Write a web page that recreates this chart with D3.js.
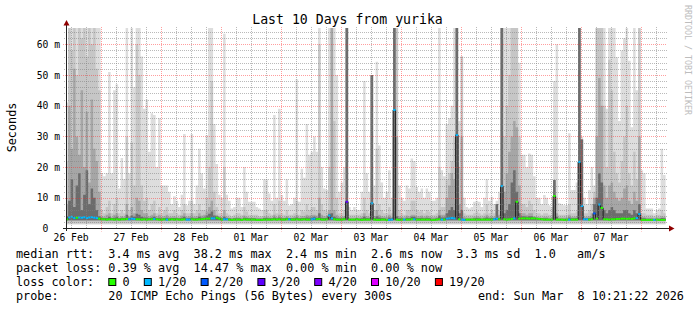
<!DOCTYPE html>
<html>
<head>
<meta charset="utf-8">
<script src="https://cdn.jsdelivr.net/npm/d3@7"></script>
<style>
body { margin: 0; background: #fff; }
svg text { font-family: "DejaVu Sans Mono", monospace; }
</style>
</head>
<body>
<div id="chart"></div>
<script>
// hourly bins, first one starts 26 Feb 10:00 UTC
var binStart = Date.UTC(2026, 1, 26, 10);
var timeStart = new Date(Date.UTC(2026, 1, 26, 10, 21, 22));
var timeEnd = new Date(Date.UTC(2026, 2, 8, 10, 21, 22));

// smoke: outer (max ping) -> inner levels, in ms
var maxPing = [
  41, 65.3, 65.3, 65.3, 65.3, 65.3, 65.3, 65.3, 65.3, 65.3, 65.3, 65.3, 65.3, 65.3,
  18, 17, 18, 51, 18, 45, 47, 13, 23, 16, 65.3, 18, 65.3, 46, 65.3, 65.3, 56, 39, 42, 25, 37.5, 37, 20, 36,
  14, 14, 14, 12, 8, 10.5, 9, 7, 11, 30.8, 7.6, 9, 30.8, 8, 14, 26, 18, 13, 30.4, 65.3, 65.3, 34, 21, 11,
  10, 63.4, 11, 9, 6.5, 7, 10, 10, 7, 20, 12, 8.7, 8.7, 8.7, 7, 6.5, 6, 16, 16, 11.4, 9, 37, 10, 39,
  10.9, 9, 16, 7.5, 8, 10, 48.6, 8.7, 19.5, 16.5, 34, 24, 25, 30, 25, 65.3, 20, 13, 12.5, 65.3, 65.3, 65.3, 50, 12,
  15, 20, 65.3, 7, 6, 7, 6, 6, 12, 48, 18, 12, 50, 14, 54.3, 27, 15, 10, 12, 19, 10, 65.3, 65.3, 14,
  10, 9, 14, 13, 22.8, 22, 13.5, 12, 13, 10, 13, 12, 9, 9, 10, 65.3, 19, 17, 34, 36, 40, 65.3, 65.3, 35,
  56, 10, 7, 6.5, 7, 8.7, 9, 8.7, 7, 10, 16, 9, 10.3, 8, 9, 12, 65.3, 65.3, 65.3, 65.3, 65.3, 65.3, 65.3, 54,
  24, 24, 20, 24.4, 24, 17, 10, 10, 8, 10.9, 10, 7.6, 7, 48, 60, 8.2, 8, 7.6, 7.6, 31, 12.5, 12.5, 15, 65.3,
  30, 10, 8, 12.5, 20, 14, 65.3, 65.3, 65.3, 65.3, 39, 65.3, 65.3, 65.3, 55.8, 35, 58, 62, 65.3, 54.6, 33, 65.3, 45, 65.3,
  19, 18, 6.5, 6.5, 6.5, 5, 6, 6.5, 26, 17.4
];
var smoke2 = [
  22, 65.3, 58, 65.3, 50, 65.3, 62, 65.3, 56, 65.3, 60, 65.3, 52, 45,
  6, 5, 7, 9, 5, 8, 10, 5, 6, 5, 30, 6, 28, 14, 60, 50, 14, 9, 10, 6, 8, 9, 5, 7,
  5, 6, 7, 5, 5, 6, 5, 4.5, 6, 8, 5, 5, 9, 5, 6, 8, 6, 6, 10, 20, 48, 12, 7, 5,
  5, 20, 5, 4.5, 4, 4.5, 5, 5, 4.5, 7, 5.5, 4.5, 4.5, 4.5, 4.5, 4, 4, 6, 6, 5, 4.5, 8, 5, 9,
  5, 4.5, 6, 4.5, 4.5, 5, 9, 4.5, 6, 5.5, 8, 6, 7, 7, 6, 60, 8, 6, 5.5, 20, 65.3, 35, 10, 5,
  5, 6, 65.3, 4.5, 4.5, 4.5, 4.5, 4.5, 5, 10, 6, 5, 50, 6, 26, 8, 6, 5, 5, 7, 5, 65.3, 65.3, 6,
  5, 4.5, 6, 6, 9, 9, 6, 5.5, 6, 5, 6, 5.5, 4.5, 4.5, 5, 20, 7, 7, 16, 18, 22, 30, 65.3, 20,
  56, 5, 4.5, 4.5, 4.5, 5, 5.5, 5, 4.5, 5, 8, 5, 6, 5, 6, 6, 65.3, 30, 40, 50, 65.3, 65.3, 65.3, 30,
  8, 8, 7, 9, 8, 6, 5, 5, 4.5, 5, 5, 4.5, 4.5, 15, 10, 4.5, 4.5, 4.5, 4.5, 8, 5, 5, 5.5, 65.3,
  29, 5, 5, 6, 8, 12, 65.3, 65.3, 65.3, 40, 20, 55, 45, 25, 18, 15, 22, 30, 40, 18, 14, 25, 16, 65.3,
  5, 5, 4.5, 4.5, 4.5, 4, 4.5, 4.5, 6, 5
];
var smoke3 = [
  8, 40, 26, 52, 30, 24, 45, 20, 38, 15, 42, 26, 22, 12,
  4, 3.8, 4.5, 5, 3.7, 4.5, 5, 3.6, 4, 3.8, 8, 4, 7, 5, 10, 9, 6, 5, 5, 4, 4.5, 5, 4, 4.5,
  3.8, 4, 4.5, 3.8, 3.8, 4, 3.7, 3.6, 4.2, 5, 3.8, 4, 5, 3.8, 4, 5, 4.2, 4.5, 5.5, 7, 9, 6, 4.5, 4,
  3.7, 6, 3.8, 3.6, 3.5, 3.6, 3.7, 3.7, 3.6, 4.2, 3.8, 3.6, 3.6, 3.6, 3.6, 3.5, 3.5, 3.9, 3.9, 3.7, 3.6, 4.5, 3.7, 4.5,
  3.7, 3.6, 4, 3.6, 3.6, 3.8, 4.5, 3.6, 4, 4, 4.5, 4.2, 4.5, 4.5, 4.2, 10, 4.5, 4, 4, 6, 65.3, 6, 4.5, 3.8,
  3.8, 4, 65.3, 3.6, 3.6, 3.6, 3.6, 3.6, 3.8, 5, 4, 3.8, 50, 4, 6, 4.5, 4, 3.8, 3.8, 4.5, 3.8, 65.3, 30, 4,
  3.8, 3.7, 4.2, 4, 4.5, 4.5, 4, 4, 4.2, 3.8, 4.2, 4, 3.7, 3.7, 3.8, 6, 4.5, 4.5, 10, 14, 18, 16, 65.3, 8,
  30, 3.8, 3.6, 3.6, 3.6, 3.8, 4, 3.8, 3.6, 3.8, 4.5, 3.8, 4, 3.8, 8, 4.5, 65.3, 12, 18, 25, 30, 35, 33, 14,
  5, 5, 4.5, 5, 5, 4, 3.8, 3.8, 3.6, 3.8, 3.8, 3.6, 3.6, 15.8, 5, 3.6, 3.6, 3.6, 3.6, 4.5, 3.8, 3.8, 4, 65.3,
  29, 3.8, 3.8, 4, 5, 10, 30, 49, 40, 14, 10, 14, 15, 12, 10, 9, 10, 13, 14, 9, 8, 12, 9, 30,
  3.8, 3.8, 3.6, 3.6, 3.6, 3.5, 3.6, 3.6, 4, 3.8
];
var smoke4 = [
  4, 9, 16, 7, 14, 18, 6, 11, 19, 8, 13, 10, 6, 4,
  3.5, 3.4, 3.4, 3.8, 3.4, 3.5, 3.8, 3.3, 3.5, 3.4, 4.5, 3.5, 4.2, 3.8, 4.8, 4.5, 3.8, 3.6, 3.6, 3.4, 3.6, 3.8, 3.4, 3.5,
  3.3, 3.4, 3.5, 3.3, 3.4, 3.4, 3.3, 3.3, 3.5, 3.8, 3.3, 3.4, 3.6, 3.3, 3.4, 3.8, 3.5, 3.6, 4.2, 4.8, 5.5, 4.2, 4, 3.6,
  3.3, 3.8, 3.4, 3.3, 3.2, 3.3, 3.3, 3.3, 3.2, 3.5, 3.4, 3.3, 3.3, 3.3, 3.2, 3.2, 3.2, 3.4, 3.4, 3.3, 3.3, 3.6, 3.3, 3.6,
  3.3, 3.3, 3.5, 3.4, 3.3, 3.3, 3.6, 3.3, 3.4, 3.4, 3.6, 3.5, 3.6, 3.8, 3.5, 5, 3.5, 3.4, 3.4, 4.8, 5, 3.8, 3.5, 3.3,
  3.3, 3.5, 65.3, 3.2, 3.2, 3.2, 3.3, 3.2, 3.3, 3.8, 3.4, 3.3, 50, 3.4, 4, 3.6, 3.4, 3.3, 3.2, 3.6, 3.3, 65.3, 4, 3.3,
  3.3, 3.2, 3.5, 3.4, 3.8, 3.8, 3.4, 3.4, 3.5, 3.3, 3.5, 3.4, 3.2, 3.2, 3.3, 4.2, 3.6, 3.6, 5, 6, 7, 6, 65.3, 5,
  6, 3.2, 3.2, 3.2, 3.2, 3.3, 3.4, 3.3, 3.2, 3.3, 3.6, 3.3, 3.4, 3.3, 8, 3.5, 65.3, 5, 6, 8, 15, 19, 12, 5,
  4, 4, 3.8, 4, 4, 3.6, 3.5, 3.4, 3.3, 3.3, 3.3, 3.2, 3.2, 15.8, 3.8, 3.2, 3.2, 3.2, 3.2, 3.6, 3.3, 3.3, 3.4, 65.3,
  29, 3.3, 3.3, 3.4, 3.6, 8, 10, 18, 15, 6, 5, 6, 7, 6, 5, 5, 5, 6, 6, 5, 4.5, 6, 5, 8,
  3.3, 3.3, 3.2, 3.2, 3.2, 3.1, 3.2, 3.2, 3.4, 3.3
];
var medianRtt = [
  3.0, 3.6, 3.8, 3.4, 3.5, 3.6, 3.5, 3.7, 3.4, 3.6, 3.7, 3.5, 3.4, 3.2,
  3.0, 3.0, 2.9, 3.0, 3.0, 2.9, 3.0, 2.9, 3.0, 3.0, 3.1, 3.0, 3.2, 3.1, 3.0, 3.0, 2.9, 3.0, 2.9, 3.0, 3.0, 3.1, 3.0, 2.9,
  2.9, 3.0, 2.9, 2.9, 3.0, 2.9, 3.0, 2.9, 2.9, 3.0, 2.9, 2.9, 3.0, 2.9, 2.9, 3.0, 3.0, 3.1, 3.2, 3.2, 3.3, 3.3, 3.5, 3.2,
  2.9, 3.0, 3.0, 2.9, 2.8, 2.9, 2.9, 2.9, 2.8, 3.0, 2.9, 2.9, 2.9, 2.9, 2.8, 2.8, 2.8, 2.9, 2.9, 2.9, 2.9, 3.0, 2.9, 3.0,
  2.9, 2.9, 3.0, 3.0, 2.9, 2.9, 3.0, 2.9, 2.9, 3.0, 2.9, 2.9, 3.0, 3.2, 3.0, 3.1, 2.9, 2.9, 3.0, 4.2, 3.3, 3.0, 2.9, 2.9,
  2.9, 3.0, 8.7, 2.9, 2.9, 2.9, 3.0, 2.9, 2.8, 2.9, 2.9, 2.9, 8.2, 2.9, 2.8, 2.8, 2.9, 2.9, 2.8, 2.8, 2.9, 38.6, 2.9, 2.8,
  2.9, 2.9, 2.9, 2.9, 3.0, 3.0, 2.9, 2.9, 2.9, 2.9, 2.9, 2.9, 2.8, 2.8, 2.9, 3.0, 2.9, 2.9, 3.2, 3.3, 3.4, 3.3, 30.4, 3.0,
  2.9, 2.8, 2.9, 2.9, 2.9, 2.9, 2.9, 2.9, 2.9, 2.9, 2.9, 2.9, 2.9, 3.0, 3.2, 3.0, 13.8, 3.0, 2.9, 3.0, 3.1, 3.3, 8.7, 3.2,
  3.3, 3.3, 3.3, 3.2, 3.3, 3.3, 3.2, 3.1, 3.0, 2.9, 2.9, 2.9, 2.9, 10.6, 2.9, 2.9, 2.9, 2.8, 2.9, 2.9, 2.9, 2.9, 2.9, 21.7,
  7.3, 3.0, 3.0, 2.9, 3.0, 4.9, 3.2, 7.8, 6.7, 3.0, 3.0, 2.9, 3.0, 3.0, 3.1, 3.1, 3.2, 3.2, 3.1, 3.2, 3.1, 3.3, 3.4, 4.7,
  2.8, 2.8, 2.8, 2.8, 2.8, 2.8, 2.9, 2.8, 2.8, 2.8
];
// lost pings out of 20
var lossCount = [
  0, 1, 1, 1, 0, 1, 1, 1, 1, 1, 1, 1, 1, 0,
  0, 0, 0, 0, 0, 0, 0, 0, 0, 0, 0, 1, 1, 1, 0, 0, 0, 0, 0, 0, 0, 1, 0, 0,
  0, 0, 1, 0, 0, 0, 0, 0, 0, 0, 1, 1, 0, 0, 0, 0, 0, 0, 0, 0, 1, 1, 0, 0,
  0, 1, 1, 0, 0, 0, 0, 0, 0, 0, 0, 0, 0, 0, 0, 0, 0, 0, 0, 0, 0, 0, 0, 0,
  0, 0, 0, 1, 0, 0, 0, 0, 0, 0, 0, 0, 1, 1, 0, 0, 0, 0, 0, 1, 1, 0, 0, 0,
  0, 0, 3, 0, 0, 0, 0, 0, 0, 0, 0, 0, 1, 0, 0, 0, 0, 0, 0, 1, 1, 1, 0, 0,
  0, 1, 0, 0, 0, 1, 0, 0, 0, 0, 0, 0, 0, 0, 0, 0, 1, 0, 1, 1, 1, 1, 1, 0,
  1, 1, 0, 0, 0, 0, 0, 0, 0, 0, 0, 0, 0, 1, 1, 0, 1, 0, 0, 0, 0, 1, 0, 0,
  0, 0, 0, 0, 0, 0, 0, 0, 0, 0, 0, 0, 0, 0, 0, 0, 0, 0, 0, 1, 0, 0, 0, 1,
  1, 1, 1, 0, 0, 2, 0, 1, 0, 0, 0, 0, 0, 0, 0, 0, 0, 0, 0, 0, 0, 0, 1, 1,
  0, 0, 0, 0, 0, 1, 0, 0, 0, 0
];
var smokeFloor = [1.3, 1.6, 2.5, 2.7];
var smokeColors = ["#dddddd", "#c6c6c6", "#a6a6a6", "#6c6c6c"];

var lossSteps = [0, 1, 2, 3, 4, 10, 19];
var lossLabels = ["0", "1/20", "2/20", "3/20", "4/20", "10/20", "19/20"];
var lossColors = ["#26ff00", "#00b8ff", "#0059ff", "#5e00ff", "#7e00ff", "#dd00ff", "#ff0000"];

var yTicks = [0, 10, 20, 30, 40, 50, 60];

var legendLines = [
  "median rtt:  3.4 ms avg  38.2 ms max  2.4 ms min  2.6 ms now  3.3 ms sd  1.0   am/s",
  "packet loss: 0.39 % avg  14.47 % max  0.00 % min  0.00 % now",
  "loss color:",
  "probe:       20 ICMP Echo Pings (56 Bytes) every 300s"
];
var endText = "end: Sun Mar  8 10:21:22 2026";

function lossColor(n) {
  var c = lossColors[0];
  lossSteps.forEach(function(s, i) { if (n >= s) c = lossColors[i]; });
  return c;
}

var svg = d3.select("#chart").append("svg")
  .attr("width", 697).attr("height", 310);

var x = d3.scaleUtc().domain([timeStart, timeEnd]).range([66.5, 666.5]);
var y = d3.scaleLinear().domain([0, 65.3]).range([228.5, 28]);

var bins = maxPing.map(function(d, i) {
  return {
    t0: new Date(binStart + i * 36e5),
    t1: new Date(binStart + (i + 1) * 36e5),
    lv: [maxPing[i], smoke2[i], smoke3[i], smoke4[i]],
    med: medianRtt[i],
    loss: lossCount[i]
  };
});
var last = bins[bins.length - 1];
var stepPts = bins.concat([{ t0: last.t1, lv: last.lv, med: last.med }]);

svg.append("clipPath").attr("id", "plot")
  .append("rect").attr("x", 66.5).attr("y", 20).attr("width", 600).attr("height", 208.5);

var plot = svg.append("g").attr("clip-path", "url(#plot)");

// ----- smoke -----
smokeFloor.forEach(function(fl, L) {
  var area = d3.area().curve(d3.curveStepAfter)
    .x(function(d) { return x(d.t0); })
    .y0(y(fl))
    .y1(function(d) { return y(Math.max(d.lv[L], fl)); });
  plot.append("path").datum(stepPts).attr("d", area).attr("fill", smokeColors[L]);
});

// ----- grid (drawn over the smoke) -----
var grid = svg.append("g").attr("fill", "none").attr("stroke-dasharray", "1,1");
d3.range(2, 66, 2).filter(function(v) { return v % 10 !== 0; }).forEach(function(v) {
  grid.append("line").attr("x1", 64).attr("x2", 667)
    .attr("y1", Math.round(y(v)) + 0.5).attr("y2", Math.round(y(v)) + 0.5)
    .attr("stroke", "rgba(130,130,130,0.55)");
});
x.ticks(d3.utcHour.every(6)).filter(function(d) { return d.getUTCHours() !== 0; }).forEach(function(d) {
  grid.append("line").attr("y1", 27).attr("y2", 228.5)
    .attr("x1", Math.round(x(d)) + 0.5).attr("x2", Math.round(x(d)) + 0.5)
    .attr("stroke", "rgba(130,130,130,0.55)");
});
yTicks.filter(function(v) { return v > 0; }).forEach(function(v) {
  grid.append("line").attr("x1", 63).attr("x2", 667)
    .attr("y1", Math.round(y(v)) + 0.5).attr("y2", Math.round(y(v)) + 0.5)
    .attr("stroke", "rgba(255,40,40,0.45)");
});
x.ticks(d3.utcDay.every(1)).forEach(function(d) {
  grid.append("line").attr("y1", 27).attr("y2", 231.5)
    .attr("x1", Math.round(x(d)) + 0.5).attr("x2", Math.round(x(d)) + 0.5)
    .attr("stroke", "rgba(255,40,40,0.45)");
});

// ----- median -----
var medLine = d3.line().curve(d3.curveStepAfter)
  .x(function(d) { return x(d.t0); })
  .y(function(d) { return y(d.med); });
plot.append("path").datum(stepPts).attr("d", medLine)
  .attr("fill", "none").attr("stroke", "#1e1e1e").attr("stroke-width", 1);

plot.selectAll(".med").data(bins).enter().append("rect")
  .attr("class", "med")
  .attr("x", function(d) { return x(d.t0); })
  .attr("width", function(d) { return x(d.t1) - x(d.t0); })
  .attr("y", function(d) { return y(d.med) - 1; })
  .attr("height", 2)
  .attr("fill", function(d) { return lossColor(d.loss); });

// ----- axes -----
svg.append("line").attr("x1", 63).attr("x2", 669).attr("y1", 228.5).attr("y2", 228.5)
  .attr("stroke", "#222");
svg.append("line").attr("x1", 66.5).attr("x2", 66.5).attr("y1", 231).attr("y2", 25)
  .attr("stroke", "#222");
svg.append("path").attr("d", "M669,225.5L674.5,228.5L669,231.5Z").attr("fill", "#900000");
svg.append("path").attr("d", "M63.5,25.5L66.5,20L69.5,25.5Z").attr("fill", "#900000");

var yAxis = d3.axisLeft(y).tickValues(yTicks).tickSize(0).tickPadding(6)
  .tickFormat(function(d) { return d === 0 ? "0  " : d + " m"; });
svg.append("g").attr("transform", "translate(66,0)").call(yAxis)
  .attr("font-family", "DejaVu Sans Mono").attr("font-size", 9.7)
  .call(function(g) { g.select(".domain").remove(); })
  .selectAll("text").attr("xml:space", "preserve").style("white-space", "pre");

var noons = d3.utcDay.range(new Date(Date.UTC(2026, 1, 26)), new Date(Date.UTC(2026, 2, 8)))
  .map(function(d) { return d3.utcHour.offset(d, 12); });
var xAxis = d3.axisBottom(x).tickValues(noons).tickSize(0).tickPadding(5.3)
  .tickFormat(d3.utcFormat("%d %b"));
svg.append("g").attr("transform", "translate(0,228.5)").call(xAxis)
  .attr("font-family", "DejaVu Sans Mono").attr("font-size", 9.7)
  .call(function(g) { g.select(".domain").remove(); });

// ----- texts -----
svg.append("text").attr("x", 347.5).attr("y", 24).attr("text-anchor", "middle")
  .attr("font-size", 13.2).text("Last 10 Days from yurika");

svg.append("text").attr("transform", "translate(15.5,127.5) rotate(-90)")
  .attr("text-anchor", "middle").attr("font-size", 11.8).text("Seconds");

svg.append("text").attr("transform", "translate(685,5) rotate(90)")
  .attr("font-size", 8.3).attr("fill", "#bdbdbd").text("RRDTOOL / TOBI OETIKER");

// ----- legend -----
var cw = 7.1;
var legend = svg.append("g").attr("font-size", 11.8);
legendLines.forEach(function(s, i) {
  legend.append("text").attr("x", 16).attr("y", 258 + i * 14)
    .attr("xml:space", "preserve").style("white-space", "pre").text(s);
});
legend.append("text").attr("x", 478).attr("y", 300)
  .attr("xml:space", "preserve").style("white-space", "pre").text(endText);

var pos = 13;
lossLabels.forEach(function(lab, i) {
  legend.append("rect").attr("x", 16 + pos * cw + 0.5).attr("y", 278.5)
    .attr("width", 7).attr("height", 7)
    .attr("fill", lossColors[i]).attr("stroke", "#000").attr("stroke-width", 1);
  legend.append("text").attr("x", 16 + (pos + 2) * cw).attr("y", 286).text(lab);
  pos += 2 + lab.length + 2;
});
</script>
</body>
</html>
